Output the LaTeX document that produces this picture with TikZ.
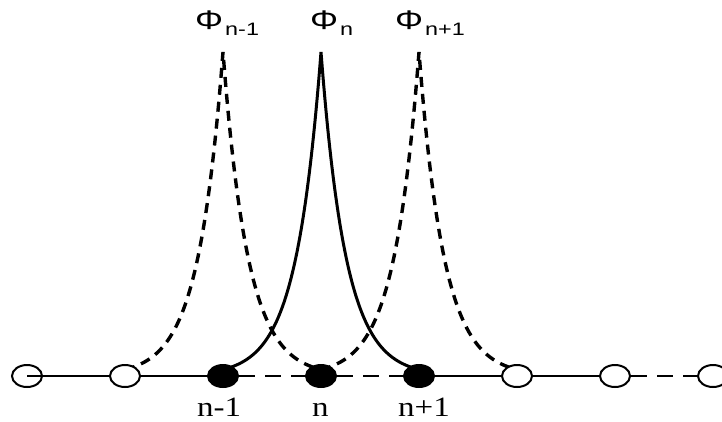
\documentclass[tikz,border=0pt]{standalone}
\usepackage{fontspec}
\setmainfont{Liberation Serif}
\setsansfont{Liberation Sans}
\usetikzlibrary{shapes.geometric}
\newcommand{\philabel}[2]{\scalebox{1.3}[1]{\fontsize{27}{27}\selectfont #1}\hspace{2pt}\raisebox{-6pt}{\scalebox{1.3}[1]{\fontsize{18}{18}\selectfont #2}}}
\begin{document}
\begin{tikzpicture}[x=1pt,y=-1pt,
  site/.style={ellipse,draw,line width=2pt,minimum width=30pt,minimum height=22pt,inner sep=0pt},
  opensite/.style={site,fill=white},
  fullsite/.style={site,fill=black},
  baseline/.style={line width=2.4pt},
  basedash/.style={baseline,dash pattern=on 16pt off 10pt},
  wave/.style={line width=3pt},
  wavedash/.style={wave,line width=3.4pt,dash pattern=on 10pt off 7pt},
  philab/.style={font=\sffamily, anchor=base west, inner sep=0pt},
  sitelab/.style={font=\fontsize{28}{28}\selectfont, anchor=base west, inner sep=0pt}]
\useasboundingbox (0,0) rectangle (722,421);
\fill[white] (0,0) rectangle (722,421);

% wave functions
\draw[wavedash] plot[domain=-98:0,samples=80] ({223+\x},{376-324*exp(\x/25)})
  -- plot[domain=0:98,samples=80] ({223+\x},{376-324*exp(-\x/25)});
\draw[wave] plot[domain=-98:0,samples=80] ({321+\x},{376-324*exp(\x/25)})
  -- plot[domain=0:98,samples=80] ({321+\x},{376-324*exp(-\x/25)});
\draw[wavedash] plot[domain=-98:0,samples=80] ({419+\x},{376-324*exp(\x/25)})
  -- plot[domain=0:98,samples=80] ({419+\x},{376-324*exp(-\x/25)});

% sites
\node[site] (s1) at (27,376) {};
\node[opensite] (s2) at (125,376) {};
\node[fullsite] (s3) at (223,376) {};
\node[fullsite] (s4) at (321,376) {};
\node[fullsite] (s5) at (419,376) {};
\node[opensite] (s6) at (517,376) {};
\node[opensite] (s7) at (615,376) {};
\node[opensite] (s8) at (713,376) {};

% chain
\draw[baseline] (s1.center) -- (s2);
\draw[baseline] (s2) -- (s3);
\draw[basedash] (s3) -- (s4);
\draw[basedash] (s4) -- (s5);
\draw[baseline] (s5) -- (s6);
\draw[baseline] (s6) -- (s7);
\draw[basedash] (s7) -- (s8);

% labels
\node[philab] (p1) at (195,29) {\philabel{Φ}{n-1}};
\node[philab] (p2) at (310,29) {\philabel{Φ}{n}};
\node[philab] (p3) at (395,29) {\philabel{Φ}{n+1}};
\node[sitelab] (l1) at (197,416) {\scalebox{1.18}[1]{n-1}};
\node[sitelab] (l2) at (312,416) {\scalebox{1.18}[1]{n}};
\node[sitelab] (l3) at (398,416) {\scalebox{1.18}[1]{n+1}};
\end{tikzpicture}
\end{document}
